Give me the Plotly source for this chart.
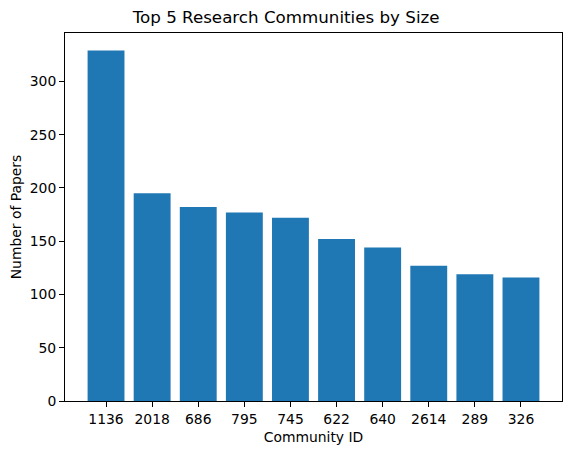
import plotly.graph_objects as go

communities = ["1136", "2018", "686", "795", "745", "622", "640", "2614", "289", "326"]
papers = [329, 195, 182, 177, 172, 152, 144, 127, 119, 116]

fig = go.Figure(go.Bar(x=communities, y=papers, marker=dict(color="#1f77b4", line=dict(width=0)), width=0.8))

axis_common = dict(showline=True, linecolor="black", linewidth=1, mirror=True, ticks="outside",
                   ticklen=5, tickwidth=1, tickcolor="black", showgrid=False, zeroline=False,
                   automargin=False, tickfont=dict(size=13.9, color="black"))

fig.update_layout(
    width=563, height=447,
    margin=dict(l=57, r=9, t=25, b=54),
    paper_bgcolor="white", plot_bgcolor="white",
    font=dict(family="DejaVu Sans", color="black"),
    title=dict(text="Top 5 Research Communities by Size", x=0.494, xanchor="center", y=0.98, yanchor="middle",
               font=dict(size=16.7, color="black"), automargin=False),
    showlegend=False,
)
fig.update_xaxes(type="category", range=[-0.89, 9.89], title=dict(text="Community ID", font=dict(size=13.9), standoff=6), **axis_common)
fig.update_yaxes(range=[0, 345.45], tickvals=[0, 50, 100, 150, 200, 250, 300], title=dict(text="Number of Papers", font=dict(size=13.9), standoff=8), **axis_common)

fig.write_html("out.html")
